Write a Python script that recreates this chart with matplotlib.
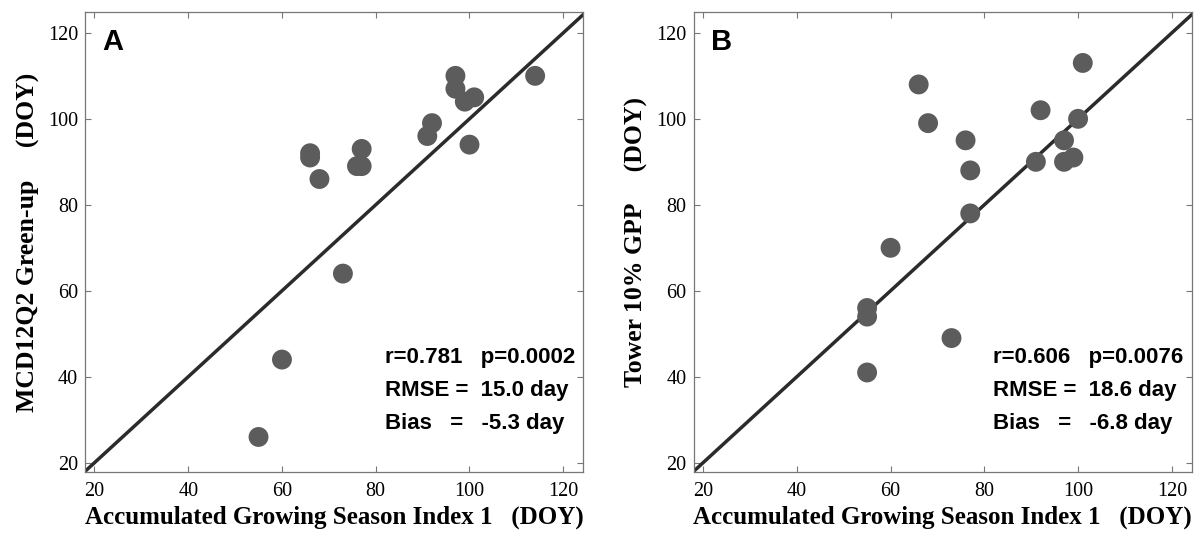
import numpy as np
import matplotlib
matplotlib.use('Agg')
import matplotlib.pyplot as plt

# panel A: AGSI-1 vs MCD12Q2 green-up (DOY)
agsi_a = [97, 97, 99, 101, 114, 92, 91, 100, 66, 66, 68, 77, 76, 77, 73, 60, 55]
mcd_a = [110, 107, 104, 105, 110, 99, 96, 94, 92, 91, 86, 93, 89, 89, 64, 44, 26]

# panel B: AGSI-1 vs tower 10% GPP (DOY)
agsi_b = [101, 66, 68, 92, 100, 76, 97, 91, 97, 99, 77, 77, 60, 55, 55, 55, 73]
gpp_b = [113, 108, 99, 102, 100, 95, 95, 90, 90, 91, 88, 78, 70, 56, 54, 41, 49]

ticks = [20, 40, 60, 80, 100, 120]

panels = [
    ('A', agsi_a, mcd_a, 'MCD12Q2 Green-up     (DOY)',
     ['r=0.781   p=0.0002', 'RMSE =  15.0 day', 'Bias   =   -5.3 day']),
    ('B', agsi_b, gpp_b, 'Tower 10% GPP     (DOY)',
     ['r=0.606   p=0.0076', 'RMSE =  18.6 day', 'Bias   =   -6.8 day']),
]

fig = plt.figure(figsize=(11.98, 5.36), dpi=100)
lefts = [0.071, 0.579]
serif = 'Liberation Serif'
sans = 'Liberation Sans'

for left, (letter, x, y, ylab, stats) in zip(lefts, panels):
    ax = fig.add_axes([left, 0.119, 0.416, 0.859])
    ax.plot([0, 150], [0, 150], color='#2b2b2b', lw=2.5, zorder=2)
    ax.scatter(x, y, s=205, color='#5c5c5c', edgecolors='none', zorder=3)
    ax.set_xlim(18, 124.3)
    ax.set_ylim(17.8, 124.9)
    ax.set_xticks(ticks)
    ax.set_yticks(ticks)
    ax.tick_params(direction='in', top=True, right=True, length=4,
                   width=0.8, color='#777777', labelsize=14.5)
    ax.tick_params(axis='y', pad=5)
    ax.tick_params(axis='x', pad=7)
    for lab in ax.get_xticklabels() + ax.get_yticklabels():
        lab.set_fontfamily(serif)
    for sp in ax.spines.values():
        sp.set_color('#777777')
        sp.set_linewidth(0.9)
    ax.set_xlabel('Accumulated Growing Season Index 1   (DOY)', fontsize=18,
                  fontweight='bold', fontfamily=serif, labelpad=3)
    ax.set_ylabel(ylab, fontsize=18.5, fontweight='bold', fontfamily=serif,
                  labelpad=6)
    ax.text(0.034, 0.935, letter, transform=ax.transAxes, fontsize=21,
            fontweight='bold', fontfamily=sans, va='center', ha='left')
    for k, s in enumerate(stats):
        ax.text(0.601, 0.25 - k * 0.072, s, transform=ax.transAxes,
                fontsize=16, fontweight='bold', fontfamily=sans,
                va='center', ha='left')

fig.savefig('out.png', dpi=100)
